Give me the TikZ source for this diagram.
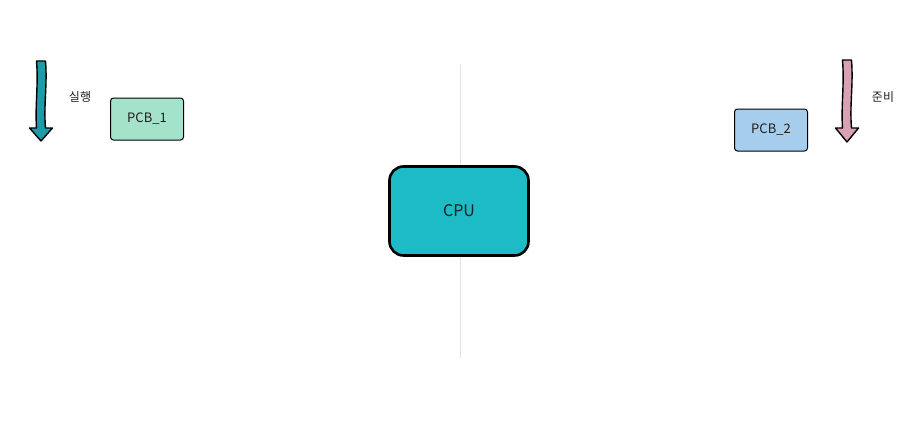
\documentclass[tikz,border=0pt]{standalone}
\usepackage{fontspec}
\setmainfont{Noto Sans CJK KR}
\definecolor{cputeal}{HTML}{1CBBC6}
\definecolor{runteal}{HTML}{1D9CA8}
\definecolor{readypink}{HTML}{D8A2B3}
\definecolor{pcbmint}{HTML}{A4E3CA}
\definecolor{pcbblue}{HTML}{A6CEEC}
\definecolor{inkgray}{HTML}{1E1E1E}

\begin{document}
\begin{tikzpicture}[
  x=1pt, y=-1pt,
  every node/.style={font=\fontsize{12}{14}\selectfont, text=inkgray},
  cpubox/.style={draw=black, line width=2.6pt, fill=cputeal, rounded corners=14pt,
                 minimum width=139pt, minimum height=89pt, inner sep=0pt,
                 font=\fontsize{16}{18}\selectfont},
  pcbbox/.style={draw=black, line width=1pt, rounded corners=3pt,
                 minimum width=73pt, minimum height=42pt, inner sep=0pt,
                 font=\fontsize{13}{15}\selectfont},
  arrowline/.style={draw=black, line width=1.4pt, line join=round},
  statelabel/.style={font=\fontsize{12}{14}\selectfont}
]
  \useasboundingbox (0,0) rectangle (918,431);

  % --- divider ---
  \coordinate (divtop) at (460, 65);
  \coordinate (divbot) at (460, 358);
  \draw[black!12, line width=0.6pt] (divtop) -- (divbot);

  % --- CPU ---
  \node[cpubox] (cpu) at (459, 211) {CPU};

  % --- running side ---
  \draw[arrowline, fill=runteal]
    (36.5,61) -- (45.5,61) .. controls (47.5,85) and (43.5,105) .. (45.5,128)
    -- (52.5,128) -- (41,141) -- (29.5,128) -- (36.5,128)
    .. controls (35,105) and (38.5,85) .. (36.5,61) -- cycle;
  \node[statelabel] (runlabel) at (80, 97) {실행};
  \node[pcbbox, fill=pcbmint] (pcb1) at (147, 119) {PCB\_1};

  % --- ready side ---
  \draw[arrowline, fill=readypink]
    (842.5,60) -- (851.5,60) .. controls (853.5,85) and (849.5,105) .. (851.5,128)
    -- (858.5,128) -- (847,142) -- (835.5,128) -- (842.5,128)
    .. controls (841,105) and (844.5,85) .. (842.5,60) -- cycle;
  \node[statelabel] (readylabel) at (883, 97) {준비};
  \node[pcbbox, fill=pcbblue] (pcb2) at (771, 130) {PCB\_2};

\end{tikzpicture}
\end{document}
